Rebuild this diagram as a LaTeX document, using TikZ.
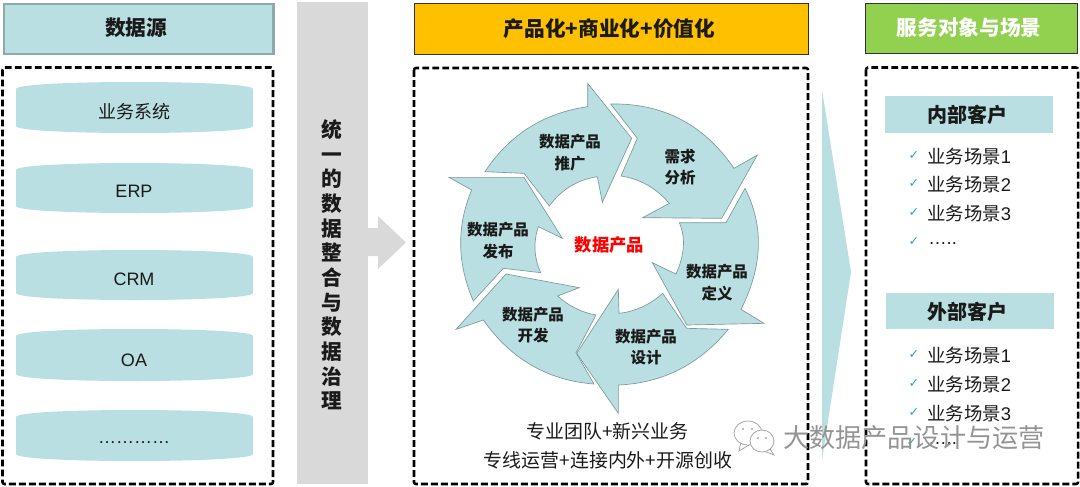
\documentclass[tikz,border=0pt]{standalone}
\usepackage{fontspec}
\setmainfont{Liberation Sans}
\newfontfamily\cjk{Noto Sans CJK SC}
\definecolor{teal}{HTML}{B9DFE2}
\definecolor{tealline}{HTML}{8FA9AB}
\definecolor{ringline}{HTML}{7E9A9C}
\definecolor{gold}{HTML}{FFC000}
\definecolor{leaf}{HTML}{92D050}
\definecolor{band}{HTML}{D9D9D9}
\definecolor{tick}{HTML}{2AA8B0}
\definecolor{ink}{HTML}{1A1A1A}
% cubic through start, via and end: \via{x0}{y0}{xv}{yv}{x1}{y1}
\newcommand{\via}[6]{.. controls ({4/3*(#3)-(#5)/3},{4/3*(#4)-(#6)/3}) and ({4/3*(#3)-(#1)/3},{4/3*(#4)-(#2)/3}) .. (#5,#6)}
\tikzset{
  dashbox/.style={draw=black,line width=1.9pt,dash pattern=on 5.2pt off 2.3pt,rounded corners=1.5pt},
  barrel/.style={fill=teal,draw=none},
  petal/.style={fill=teal,draw=ringline,line width=.5pt,line join=miter},
  headtxt/.style={font=\cjk\fontsize{15.5}{18}\selectfont\bfseries,text=ink,inner sep=0pt},
  subtxt/.style={font=\cjk\fontsize{15}{17}\selectfont\bfseries,text=ink,inner sep=0pt},
  bodytxt/.style={font=\fontsize{13.5}{16}\selectfont,text=ink,inner sep=0pt},
  listtxt/.style={font=\fontsize{13.8}{16}\selectfont,text=ink,inner sep=0pt,anchor=west},
  ringtxt/.style={font=\cjk\fontsize{11.6}{16.3}\selectfont\bfseries,text=ink,inner sep=0pt,align=center},
  tickmark/.style={font=\fontspec{DejaVu Sans}\fontsize{9.5}{11}\selectfont,text=tick,inner sep=0pt},
}
\newcommand{\drum}[2]{\path[barrel] (16,#1+7) .. controls (16,#1+2.5) and (70,#1) .. (134.5,#1) .. controls (199,#1) and (253,#1+2.5) .. (253,#1+7) -- (253,#2-7) .. controls (253,#2-2.5) and (199,#2) .. (134.5,#2) .. controls (70,#2) and (16,#2-2.5) .. (16,#2-7) -- cycle;}
\begin{document}
\begin{tikzpicture}[x=.75pt,y=-.75pt]
\useasboundingbox (0,0) rectangle (1080,486);
% headers
\node[fill=teal,draw=tealline,line width=2pt,minimum width=202pt,minimum height=37.5pt,inner sep=0pt,anchor=north west] (hsrc) at (2.5,2.5) {};
\node[headtxt] (hsrct) at (136,28) {数据源};
\node[fill=gold,draw=black!80,line width=.7pt,minimum width=295.5pt,minimum height=38.2pt,inner sep=0pt,anchor=north west] (hprod) at (414,3) {};
\node[headtxt] (hprodt) at (609.5,29) {产品化+商业化+价值化};
\node[fill=leaf,draw=black!80,line width=.7pt,minimum width=159pt,minimum height=37.5pt,inner sep=0pt,anchor=north west] (hsvc) at (864.5,2.5) {};
\node[headtxt,text=white] (hsvct) at (969,28) {服务对象与场景};
% dashed frames
\draw[dashbox] (2.5,67.5) rectangle (273,484);
\draw[dashbox] (414,68) rectangle (808,484);
\draw[dashbox] (866,67.5) rectangle (1078,484);
% source drums
\drum{82}{133}\drum{163}{213}\drum{250}{300}\drum{329}{381}\drum{410}{461}
\node[bodytxt,font=\cjk\fontsize{13.5}{16}\selectfont] (s1) at (134,112) {业务系统};
\node[bodytxt] (s2) at (134,191) {ERP};
\node[bodytxt] (s3) at (134,279.5) {CRM};
\node[bodytxt] (s4) at (134,360) {OA};
\node[bodytxt] (s5) at (134,443) {…………};
% grey band and arrow
\fill[band] (297,2) rectangle (368,484);
\node[font=\cjk\fontsize{15.5}{18.5}\selectfont\bfseries,text=ink,align=center,inner sep=0pt] (band) at (332,265) {统\\一\\的\\数\\据\\整\\合\\与\\数\\据\\治\\理};
\fill[band] (367,228) -- (378,228) -- (378,216) -- (406,242.5) -- (378,269) -- (378,256) -- (367,256) -- cycle;
% ring
\begin{scope}[x=.25pt,y=-.25pt,shift={(315pt,-52.5pt)}]
\path[petal] (195,305) \via{195}{305}{327}{173}{503}{110} -- (503,40) -- (635,205) -- (547,397) -- (532,320) \via{532}{320}{451}{349}{388}{408} -- (312,310) -- cycle;
\path[petal] (572,102) \via{572}{102}{782}{148}{942}{295} -- (1012,255) -- (905,445) -- (668,443) -- (748,400) \via{748}{400}{682}{345}{603}{318} -- (652,205) -- cycle;
\path[petal] (975,355) \via{975}{355}{1015}{530}{963}{718} -- (1032,760) -- (800,765) -- (697,578) -- (768,612) \via{768}{612}{790}{530}{778}{458} -- (918,458) -- cycle;
\path[petal] (925,778) \via{925}{778}{777}{899}{595}{945} -- (595,1030) -- (470,850) -- (595,658) -- (597,730) \via{597}{730}{666}{711}{728}{670} -- (800,775) -- cycle;
\path[petal] (522,942) \via{522}{942}{335}{886}{190}{750} -- (108,778) -- (258,612) -- (478,653) -- (413,678) \via{413}{678}{467}{715}{528}{735} -- (468,848) -- cycle;
\path[petal] (160,693) \via{160}{693}{122}{525}{155}{360} -- (87,322) -- (312,322) -- (427,505) -- (355,470) \via{355}{470}{345}{540}{362}{608} -- (250,595) -- cycle;
\end{scope}
\node[ringtxt] (r1) at (570,153) {数据产品\\推广};
\node[ringtxt] (r2) at (680,167) {需求\\分析};
\node[ringtxt] (r3) at (717,282.5) {数据产品\\定义};
\node[ringtxt] (r4) at (646,347) {数据产品\\设计};
\node[ringtxt] (r5) at (533,325) {数据产品\\开发};
\node[ringtxt] (r6) at (498,240.5) {数据产品\\发布};
\node[font=\cjk\fontsize{13}{16}\selectfont\bfseries,text=red,inner sep=0pt] (core) at (609.5,245) {数据产品};
\node[font=\cjk\fontsize{14.2}{16}\selectfont,text=ink,inner sep=0pt] (b1) at (607.5,431) {专业团队+新兴业务};
\node[font=\cjk\fontsize{14.2}{16}\selectfont,text=ink,inner sep=0pt] (b2) at (608,460) {专线运营+连接内外+开源创收};
% big chevron
\fill[teal] (822,90) -- (851,272) -- (822,460) -- cycle;
% clients
\node[fill=teal,minimum width=126pt,minimum height=27.7pt,inner sep=0pt,anchor=north west] (c1) at (885,96) {};
\node[subtxt] (c1t) at (967,115) {内部客户};
\node[fill=teal,minimum width=125.5pt,minimum height=27pt,inner sep=0pt,anchor=north west] (c2) at (886,293) {};
\node[subtxt] (c2t) at (967,312) {外部客户};
\foreach \n/\y/\d in {a/156/1,b/184/2,c/213/3,e/355/1,f/384/2,g/413/3}{
  \node[tickmark] (k\n) at (914,\y) {✓};
  \node[listtxt] (l\n) at (927,\y) {{\cjk 业务场景}\d};
}
\node[tickmark] (kd) at (914,242) {✓};
\node[listtxt] (ld) at (928,244) {…..};
\node[tickmark] (kh) at (912,442) {✓};
\node[listtxt] (lh) at (928,444) {…..};
% watermark
\begin{scope}[draw=black!35,fill=white,line width=.6pt]
\filldraw (741,442) -- (739,451) -- (749,445) -- cycle;
\filldraw (748,433) ellipse [x radius=14,y radius=12];
\filldraw (770,449) -- (774,455) -- (764,451) -- cycle;
\filldraw (762,441) ellipse [x radius=12,y radius=11];
\fill[black!35] (743,429) circle (1.2) (752,429) circle (1.2) (758,438) circle (1.1) (766,438) circle (1.1);
\end{scope}
\node[font=\cjk\fontsize{19.6}{22}\selectfont,text=black!42,inner sep=0pt,anchor=west] (wm) at (783,438) {大数据产品设计与运营};
\end{tikzpicture}
\end{document}
